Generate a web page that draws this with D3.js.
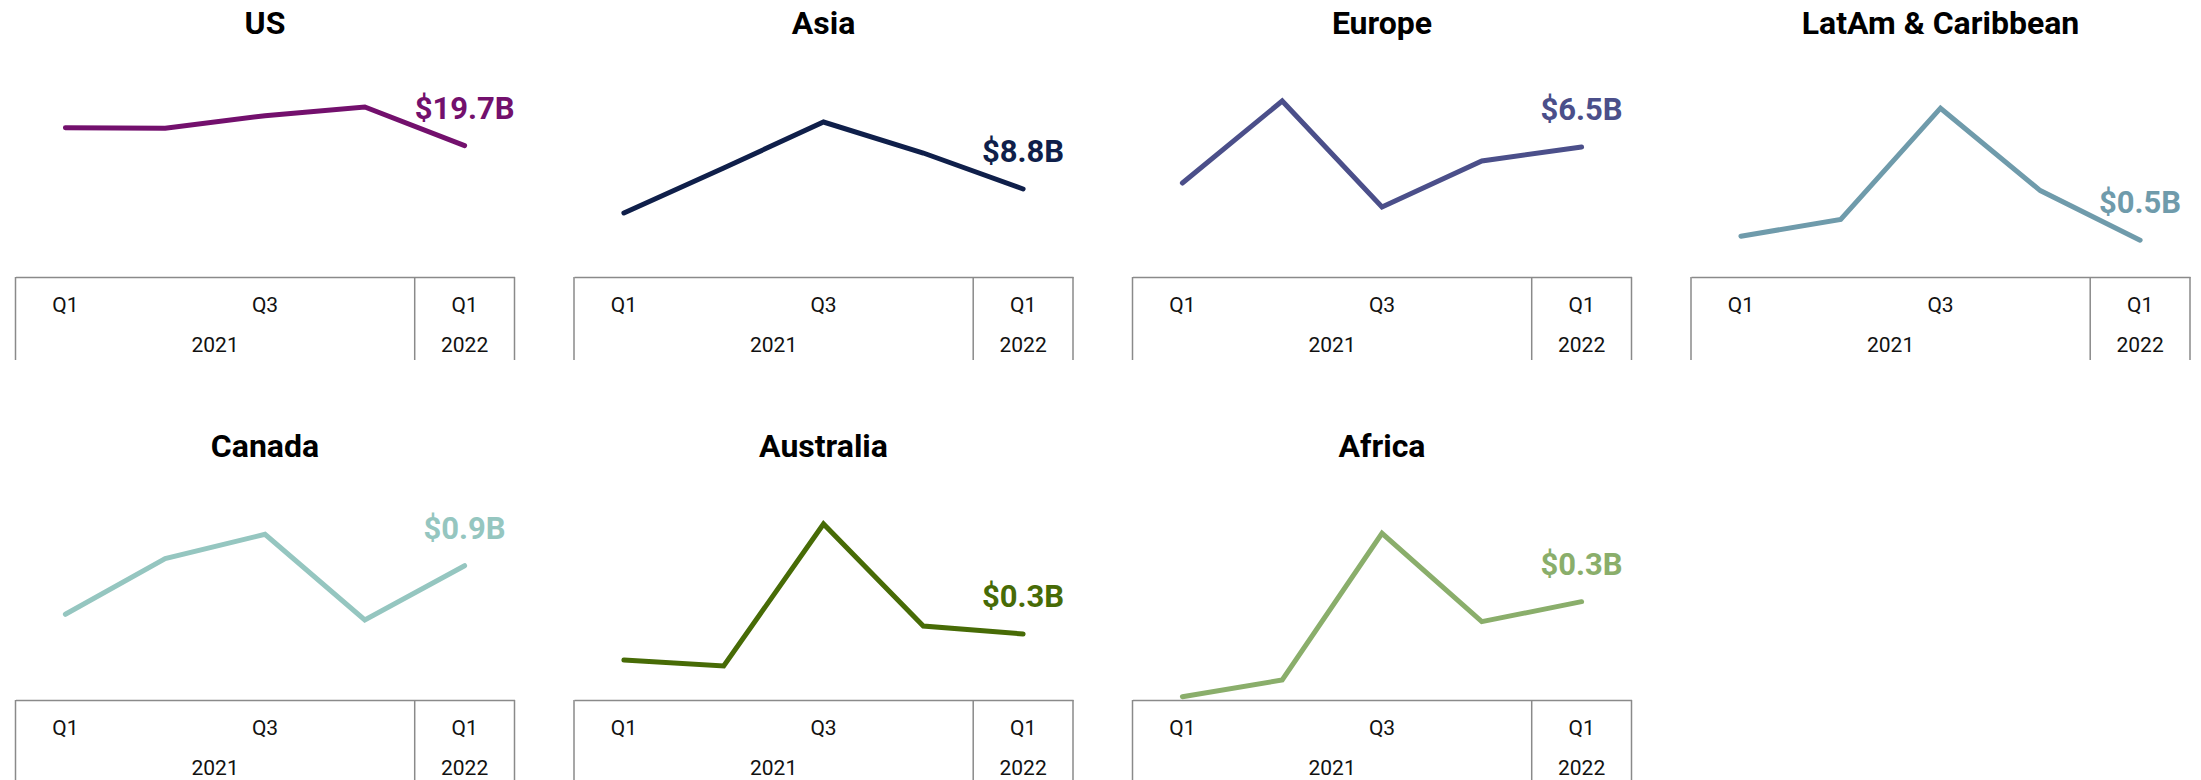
<!DOCTYPE html>
<html>
<head>
<meta charset="utf-8">
<script src="https://cdn.jsdelivr.net/npm/d3@7"></script>
<style>
  body { margin: 0; background: #fff; }
  svg { display: block; font-family: Roboto, "Noto Sans", sans-serif; }
</style>
</head>
<body>
<svg id="chart"></svg>
<script>
// Regions, in panel order (4 per row)
const regions = ['US', 'Asia', 'Europe', 'LatAm & Caribbean', 'Canada', 'Australia', 'Africa'];

// Quarters on the x axis, with their tick labels and year groups
const quarters = ['2021-Q1', '2021-Q2', '2021-Q3', '2021-Q4', '2022-Q1'];
const quarterLabels = ['Q1', '', 'Q3', '', 'Q1'];
const years = ['2021', '2022'];

// Funding per quarter, $B
const usValues = [22.4, 22.3, 24.2, 25.5, 19.7];
const asiaValues = [6.4, 10.9, 15.5, 12.4, 8.8];
const europeValues = [4.7, 8.8, 3.5, 5.8, 6.5];
const latamValues = [0.51, 0.72, 2.11, 1.08, 0.46];
const canadaValues = [0.60, 0.99, 1.16, 0.56, 0.94];
const australiaValues = [0.20, 0.17, 0.88, 0.37, 0.33];
const africaValues = [0.01, 0.06, 0.50, 0.235, 0.295];

// Top of each panel's (hidden) value axis, $B
const axisMax = [30, 20, 10, 2.5, 1.4, 1.0, 0.6];

const colors = ['#73106d', '#0f1f4a', '#4b4f8a', '#6f9bab', '#95c6c0', '#476b06', '#8aae6b'];

const seriesValues = [usValues, asiaValues, europeValues, latamValues, canadaValues, australiaValues, africaValues];

// Layout
const width = 2201, height = 780;
const panel = { left: 15.5, colStep: 558.5, rowStep: 423, boxWidth: 499, boxTop: 277, boxBottom: 360, plotTop: 77 };

const svg = d3.select('#chart')
  .attr('width', width)
  .attr('height', height);

const xScale = d3.scaleBand()
  .domain(quarters)
  .range([0, panel.boxWidth])
  .padding(0);

const xMid = q => xScale(q) + xScale.bandwidth() / 2;

regions.forEach((region, i) => {
  const col = i % 4;
  const row = Math.floor(i / 4);
  const values = seriesValues[i];
  const color = colors[i];

  const g = svg.append('g')
    .attr('transform', `translate(${panel.left + col * panel.colStep},${row * panel.rowStep})`);

  const yScale = d3.scaleLinear()
    .domain([0, axisMax[i]])
    .range([panel.boxTop, panel.plotTop]);

  // Title
  g.append('text')
    .attr('x', panel.boxWidth / 2)
    .attr('y', 34)
    .attr('text-anchor', 'middle')
    .style('font-size', '32px')
    .style('font-weight', 700)
    .attr('fill', '#000')
    .text(region);

  // Category axis: quarter ticks
  const xAxis = d3.axisBottom(xScale)
    .tickSize(0)
    .tickSizeOuter(0)
    .tickPadding(0)
    .tickFormat((d, k) => quarterLabels[k]);

  const axisG = g.append('g')
    .attr('class', 'x-axis')
    .attr('transform', `translate(0,${panel.boxTop})`)
    .call(xAxis);

  axisG.select('.domain')
    .attr('stroke', '#8a8a8a')
    .attr('stroke-width', 1.5);

  axisG.selectAll('.tick text')
    .attr('y', 28)
    .attr('dy', '0.35em')
    .style('font-size', '21px')
    .style('font-family', 'Roboto, sans-serif')
    .attr('fill', '#111');

  // Year groups and separators
  const yearSpans = years.map(yr => {
    const qs = quarters.filter(q => q.startsWith(yr));
    return { yr, x0: xScale(qs[0]), x1: xScale(qs[qs.length - 1]) + xScale.bandwidth() };
  });

  const edges = [0].concat(yearSpans.map(s => s.x1));
  g.selectAll('.sep')
    .data(edges)
    .join('line')
    .attr('class', 'sep')
    .attr('x1', d => d).attr('x2', d => d)
    .attr('y1', panel.boxTop).attr('y2', panel.boxBottom)
    .attr('stroke', '#8a8a8a')
    .attr('stroke-width', 1.5);

  g.selectAll('.year')
    .data(yearSpans)
    .join('text')
    .attr('class', 'year')
    .attr('x', d => (d.x0 + d.x1) / 2)
    .attr('y', panel.boxTop + 68)
    .attr('dy', '0.35em')
    .attr('text-anchor', 'middle')
    .style('font-size', '21px')
    .attr('fill', '#111')
    .text(d => d.yr);

  // Line
  const line = d3.line()
    .x((d, k) => xMid(quarters[k]))
    .y(d => yScale(d));

  g.append('path')
    .datum(values)
    .attr('d', line)
    .attr('fill', 'none')
    .attr('stroke', color)
    .attr('stroke-width', 5)
    .attr('stroke-linecap', 'round');

  // Last value label
  const last = values[values.length - 1];
  g.append('text')
    .attr('x', xMid(quarters[quarters.length - 1]))
    .attr('y', yScale(last) - 27)
    .attr('text-anchor', 'middle')
    .style('font-size', '31px')
    .style('font-weight', 700)
    .attr('fill', color)
    .text(`$${d3.format('.1f')(last)}B`);
});
</script>
</body>
</html>
